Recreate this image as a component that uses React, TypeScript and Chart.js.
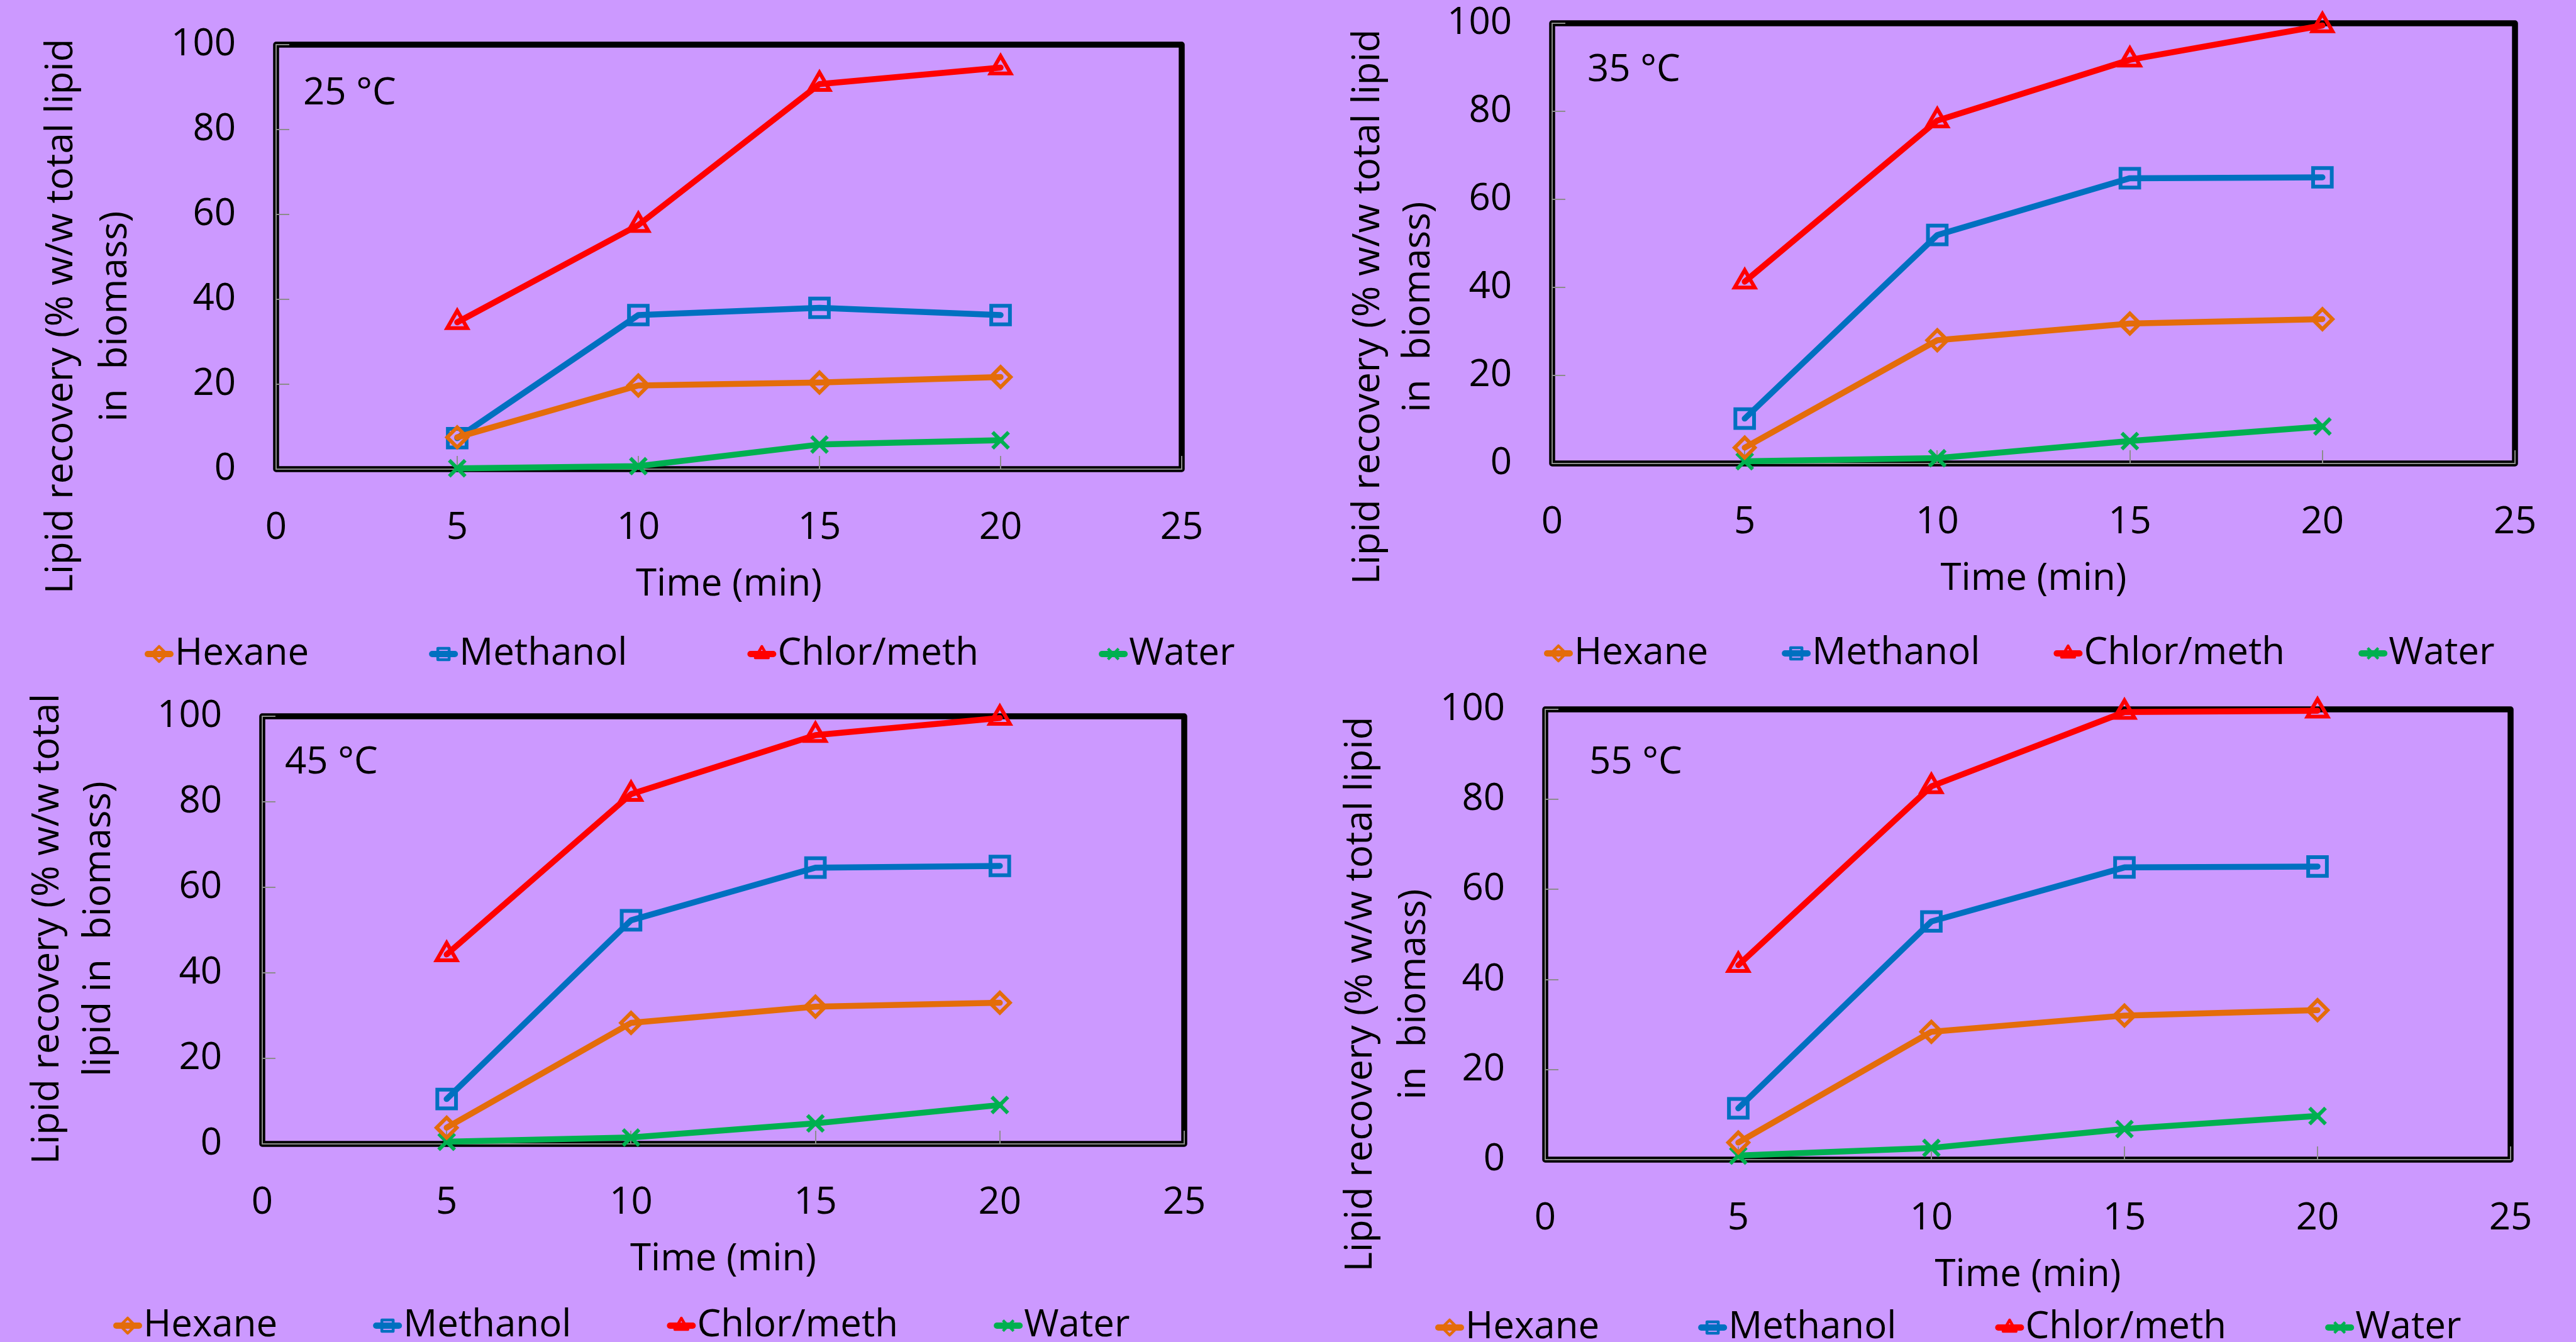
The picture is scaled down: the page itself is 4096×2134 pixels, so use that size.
import React, { useEffect, useRef } from "react";
import { Chart, registerables } from "chart.js";

Chart.register(...registerables);

// ---------------- data ----------------
const timeMin = [5, 10, 15, 20];
const xTickValues = [0, 5, 10, 15, 20, 25];
const yTickValues = [0, 20, 40, 60, 80, 100];
const seriesNames = ["Hexane", "Methanol", "Chlor/meth", "Water"];
const temperatureLabels = ["25 °C", "35 °C", "45 °C", "55 °C"];
const xAxisTitle = "Time (min)";
const yTitleA = ["Lipid recovery (% w/w total lipid", "in  biomass)"];
const yTitleB = ["Lipid recovery (% w/w total", "lipid in  biomass)"];

const hexane25 = [7.5, 19.7, 20.4, 21.7];
const methanol25 = [7.3, 36.3, 38.0, 36.3];
const chlorMeth25 = [34.6, 57.5, 90.7, 94.6];
const water25 = [0.2, 0.7, 5.8, 6.8];

const hexane35 = [3.6, 28.0, 31.8, 32.8];
const methanol35 = [10.2, 51.9, 64.8, 65.0];
const chlorMeth35 = [41.3, 77.9, 91.7, 99.5];
const water35 = [0.5, 1.2, 5.1, 8.4];

const hexane45 = [3.8, 28.3, 32.1, 33.0];
const methanol45 = [10.5, 52.3, 64.6, 65.0];
const chlorMeth45 = [44.3, 81.8, 95.6, 99.6];
const water45 = [0.5, 1.5, 4.8, 9.1];

const hexane55 = [3.8, 28.4, 32.0, 33.2];
const methanol55 = [11.4, 52.9, 64.9, 65.1];
const chlorMeth55 = [43.2, 82.9, 99.4, 99.7];
const water55 = [0.9, 2.6, 6.8, 9.7];

// ---------------- styles ----------------
const COLORS = ["#E46C0A", "#0070C0", "#FF0000", "#00B050"];
const POINT_STYLES = ["rectRot", "rect", "triangle", "crossRot"];
const POINT_RADII = [16, 21, 18.5, 18];
const FONT_FAMILY = "'Open Sans', sans-serif";
const FONT_SIZE = 60;
const FONT = { family: FONT_FAMILY, size: FONT_SIZE };
const BG = "#CC99FF";
const AXIS_GRAY = "#8c8c8c";
const REGION_W = 2048;
const REGION_H = 1067;
const M = 200; // extra canvas margin on every side
const CANVAS_W = REGION_W + 2 * M;
const CANVAS_H = REGION_H + 2 * M;

const panels = [
  {
    ox: 0, oy: 0,
    plot: { l: 439, r: 1879, t: 71, b: 746 },
    temp: { x: 482, y: 149 },
    yTitle: yTitleA, yTitleX: [98, 184], yTitleY: 503,
    legend: { x: 230, y: 1040, gap: 191 },
    series: [hexane25, methanol25, chlorMeth25, water25],
    label: temperatureLabels[0],
  },
  {
    ox: 2048, oy: 0,
    plot: { l: 2468, r: 3999, t: 37, b: 737 },
    temp: { x: 2524, y: 112 },
    yTitle: yTitleA, yTitleX: [2176, 2256], yTitleY: 488,
    legend: { x: 2455, y: 1039, gap: 117 },
    series: [hexane35, methanol35, chlorMeth35, water35],
    label: temperatureLabels[1],
  },
  {
    ox: 0, oy: 1067,
    plot: { l: 417, r: 1883, t: 1139, b: 1819 },
    temp: { x: 453, y: 1213 },
    yTitle: yTitleB, yTitleX: [76, 158], yTitleY: 1477,
    legend: { x: 180, y: 2108, gap: 152 },
    series: [hexane45, methanol45, chlorMeth45, water45],
    label: temperatureLabels[2],
  },
  {
    ox: 2048, oy: 1067,
    plot: { l: 2457, r: 3992, t: 1128, b: 1844 },
    temp: { x: 2527, y: 1213 },
    yTitle: yTitleA, yTitleX: [2164, 2249], yTitleY: 1581,
    legend: { x: 2282, y: 2111, gap: 157 },
    series: [hexane55, methanol55, chlorMeth55, water55],
    label: temperatureLabels[3],
  },
];

const Y_AXIS_W = 200;
const X_AXIS_H = 220;

function drawMarker(ctx: CanvasRenderingContext2D, style: string, x: number, y: number, r: number, color: string) {
  ctx.save();
  ctx.strokeStyle = color;
  ctx.lineWidth = 4.5;
  ctx.lineJoin = "round";
  ctx.beginPath();
  if (style === "rectRot") {
    ctx.moveTo(x - r, y);
    ctx.lineTo(x, y - r);
    ctx.lineTo(x + r, y);
    ctx.lineTo(x, y + r);
    ctx.closePath();
  } else if (style === "rect") {
    const s = r * 0.75;
    ctx.rect(x - s, y - s, 2 * s, 2 * s);
  } else if (style === "triangle") {
    ctx.moveTo(x, y - r);
    ctx.lineTo(x + r * 0.866, y + r * 0.5);
    ctx.lineTo(x - r * 0.866, y + r * 0.5);
    ctx.closePath();
  } else {
    const s = r * 0.707;
    ctx.moveTo(x - s, y - s);
    ctx.lineTo(x + s, y + s);
    ctx.moveTo(x + s, y - s);
    ctx.lineTo(x - s, y + s);
  }
  ctx.stroke();
  ctx.restore();
}

function makePlugin(p: any) {
  const cx = p.ox - M;
  const cy = p.oy - M;
  return {
    id: "decor",
    beforeDraw(chart: any) {
      const { ctx, chartArea: a } = chart;
      ctx.save();
      ctx.strokeStyle = "#000";
      ctx.lineWidth = 9.5;
      ctx.lineJoin = "round";
      ctx.strokeRect(a.left, a.top, a.right - a.left, a.bottom - a.top);
      ctx.restore();
    },
    afterDraw(chart: any) {
      const ctx: CanvasRenderingContext2D = chart.ctx;
      ctx.save();
      ctx.fillStyle = "#000";
      ctx.font = `${FONT_SIZE}px ${FONT_FAMILY}`;
      ctx.textAlign = "left";
      ctx.textBaseline = "middle";
      ctx.fillText(p.label, p.temp.x - cx, p.temp.y - cy);

      p.yTitle.forEach((line: string, i: number) => {
        ctx.save();
        ctx.translate(p.yTitleX[i] - cx, p.yTitleY - cy);
        ctx.rotate(-Math.PI / 2);
        ctx.textAlign = "center";
        ctx.textBaseline = "middle";
        ctx.fillText(line, 0, 0);
        ctx.restore();
      });

      let x = p.legend.x - cx;
      const y = p.legend.y - cy;
      chart.data.datasets.forEach((ds: any) => {
        ctx.save();
        ctx.strokeStyle = ds.borderColor;
        ctx.lineWidth = 10;
        ctx.lineCap = "round";
        ctx.beginPath();
        ctx.moveTo(x + 5, y);
        ctx.lineTo(x + 41, y);
        ctx.stroke();
        ctx.restore();
        drawMarker(ctx, ds.pointStyle, x + 23, y, 12, ds.borderColor);
        ctx.fillStyle = "#000";
        ctx.textAlign = "left";
        ctx.textBaseline = "middle";
        ctx.fillText(ds.label, x + 48, y);
        x += 48 + ctx.measureText(ds.label).width + p.legend.gap;
      });
      ctx.restore();
    },
  };
}

function buildConfig(p: any) {
  const cx = p.ox - M;
  const cy = p.oy - M;
  const local = {
    l: p.plot.l - cx,
    r: p.plot.r - cx,
    t: p.plot.t - cy,
    b: p.plot.b - cy,
  };
  const padding = {
    left: local.l - Y_AXIS_W,
    right: CANVAS_W - local.r,
    top: local.t,
    bottom: CANVAS_H - local.b - X_AXIS_H,
  };
  const datasets = p.series.map((vals: number[], i: number) => ({
    label: seriesNames[i],
    data: timeMin.map((t, j) => ({ x: t, y: vals[j] })),
    borderColor: COLORS[i],
    backgroundColor: "rgba(0,0,0,0)",
    borderWidth: 9.5,
    borderCapStyle: "round",
    borderJoinStyle: "round",
    tension: 0,
    pointStyle: POINT_STYLES[i],
    pointRadius: POINT_RADII[i],
    pointBorderWidth: 6,
    pointBorderColor: COLORS[i],
    pointBackgroundColor: "rgba(0,0,0,0)",
    clip: false,
  }));
  const gridOpts = {
    display: true,
    drawOnChartArea: false,
    drawTicks: true,
    tickLength: -21,
    color: AXIS_GRAY,
    lineWidth: 2,
  };
  const borderOpts = { display: true, color: AXIS_GRAY, width: 2 };
  return {
    type: "line",
    data: { datasets },
    options: {
      responsive: false,
      maintainAspectRatio: false,
      animation: false,
      events: [],
      layout: { padding },
      plugins: {
        legend: { display: false },
        tooltip: { enabled: false },
        title: { display: false },
      },
      scales: {
        x: {
          type: "linear",
          position: "bottom",
          min: 0,
          max: 25,
          afterBuildTicks: (s: any) => {
            s.ticks = xTickValues.map((v) => ({ value: v }));
          },
          afterFit: (s: any) => {
            s.height = X_AXIS_H;
          },
          ticks: { font: FONT, color: "#000", padding: 79, maxRotation: 0, autoSkip: false },
          grid: gridOpts,
          border: borderOpts,
          title: { display: true, text: xAxisTitle, font: FONT, color: "#000", padding: 0 },
        },
        y: {
          type: "linear",
          position: "left",
          min: 0,
          max: 100,
          afterBuildTicks: (s: any) => {
            s.ticks = yTickValues.map((v) => ({ value: v }));
          },
          afterFit: (s: any) => {
            s.width = Y_AXIS_W;
          },
          ticks: { font: FONT, color: "#000", padding: 85 },
          grid: gridOpts,
          border: borderOpts,
          title: { display: false },
        },
      },
    },
    plugins: [makePlugin(p)],
  };
}

function Panel({ p }: { p: any }) {
  const ref = useRef<HTMLCanvasElement>(null);
  useEffect(() => {
    const chart = new Chart(ref.current as HTMLCanvasElement, buildConfig(p) as any);
    return () => chart.destroy();
  }, []);
  return (
    <canvas
      ref={ref}
      width={CANVAS_W}
      height={CANVAS_H}
      style={{
        position: "absolute",
        left: p.ox - M,
        top: p.oy - M,
        width: CANVAS_W,
        height: CANVAS_H,
      }}
    />
  );
}

export default function App() {
  return (
    <div
      style={{
        position: "fixed",
        left: 0,
        top: 0,
        width: 4096,
        height: 2134,
        background: BG,
        overflow: "hidden",
      }}
    >
      {panels.map((p, i) => (
        <Panel key={i} p={p} />
      ))}
    </div>
  );
}
